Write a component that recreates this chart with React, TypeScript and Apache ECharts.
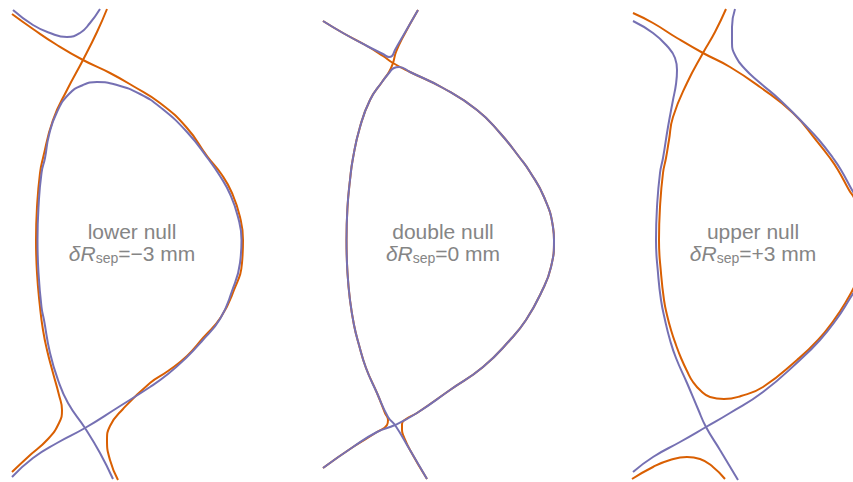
import React, { useEffect, useRef } from "react";
import * as echarts from "echarts";

type Pt = [number, number];

// Separatrix traces, each panel in its own local frame (px, y pointing down).

// --- lower null, dR_sep = -3 mm ---
const lnOrangeA: Pt[] = [
  [12, 14], [33, 29], [57, 45], [83, 60], [110, 73], [133, 86], [160, 103], [187, 128],
  [207, 156], [222, 175], [232, 193], [240, 217], [243, 240], [242, 263], [234, 290],
  [221, 317], [203, 338], [187, 356], [168, 371], [150, 383], [123, 409], [110, 426],
  [107, 440], [110, 460], [118, 480],
];
const lnOrangeB: Pt[] = [
  [107, 9], [97, 32], [83, 60], [67, 90], [53, 120], [43, 158], [40, 173], [37, 207],
  [36, 240], [37, 273], [40, 307], [43, 330], [47, 350], [53, 373], [59, 395], [62, 410],
  [59, 423], [48, 439], [28, 457], [12, 472],
];
const lnPurpleTop: Pt[] = [
  [13, 10], [33, 25], [50, 33], [67, 37], [80, 33], [90, 23], [100, 9],
];
const lnPurpleMain: Pt[] = [
  [12, 477], [33, 458], [57, 443], [85, 428], [117, 408], [150, 387], [168, 374],
  [185, 359], [202, 341], [220, 319], [232, 291], [240, 263], [241.5, 240], [238, 217],
  [230, 194], [220, 176], [209, 160], [187, 132], [160, 107], [140, 94], [117, 85],
  [97, 82], [83, 85], [69, 94], [57, 112], [49, 135], [45, 158], [41.5, 173], [38.5, 207],
  [37.5, 240], [38.5, 273], [41.5, 307], [44, 320], [50, 353], [58, 380], [68, 403],
  [85, 428], [100, 453], [113, 479],
];

// --- double null, dR_sep = 0 mm ---
const dnOrangeA: Pt[] = [
  [12, 21], [32, 33], [56, 46], [72, 56], [82, 63], [99, 72], [132, 88], [166, 110],
  [189, 133], [209, 158], [219, 172], [233, 197], [242, 227], [243, 240], [240, 267],
  [230, 293], [215, 320], [199, 340], [172, 367], [139, 390], [106, 413], [95, 419],
  [91, 424], [91, 430], [93, 437], [99, 450], [116, 479],
];
const dnOrangeB: Pt[] = [
  [107, 10], [92, 37], [85, 52], [82, 63], [78, 72], [71, 82], [59, 100], [49, 127],
  [42, 158], [39, 180], [36.5, 207], [35.5, 240], [36.5, 273], [39, 300], [43, 325],
  [48, 345], [55, 368], [66, 393], [74, 413], [77, 420], [76, 425], [66, 432], [42, 447],
  [12, 468],
];
const dnPurpleTop: Pt[] = [
  [12, 21], [32, 33], [56, 46], [72, 54], [78, 57], [81, 56], [84, 50], [92, 36], [107, 10],
];
const dnPurpleMain: Pt[] = [
  [12, 468], [42, 447], [66, 432], [84, 425], [106, 413], [139, 390], [172, 367],
  [199, 340], [215, 320], [230, 293], [240, 267], [243, 240], [242, 227], [233, 197],
  [219, 172], [209, 158], [189, 133], [166, 110], [132, 88], [99, 72], [88, 67], [83, 68],
  [78, 73], [71, 82], [59, 100], [49, 127], [42, 158], [39, 180], [36.5, 207], [35.5, 240],
  [36.5, 273], [39, 300], [43, 325], [48, 345], [55, 368], [66, 393], [77, 417], [84, 425],
  [99, 450], [116, 479],
];

// --- upper null, dR_sep = +3 mm ---
const unOrangeMain: Pt[] = [
  [12, 13], [32, 23], [56, 38], [82, 53], [109, 67], [139, 87], [172, 113], [195, 140],
  [209, 158], [217, 170], [228, 190], [234, 200], [243, 230], [245, 245], [243, 262],
  [235, 283], [226, 300], [213, 320], [197, 340], [176, 360], [142, 387], [120, 396],
  [103, 399], [89, 397], [80, 391], [72, 382], [66, 371], [60, 358], [55, 345], [50, 330],
  [46, 315], [43, 300], [40, 273], [38, 240], [39, 207], [42, 173], [45, 158], [48, 140],
  [52, 117], [66, 83], [82, 53], [94, 32], [105, 9],
];
const unOrangeLow: Pt[] = [
  [11, 479], [32, 467], [49, 460], [66, 457], [79, 459], [92, 467], [104, 479],
];
const unPurpleLeft: Pt[] = [
  [12, 21], [32, 33], [46, 46], [54, 58], [56, 70], [55, 84], [52, 100], [47, 127],
  [42, 158], [39, 173], [36, 207], [35, 240], [37, 273], [40, 300], [44, 320], [49, 340],
  [55, 358], [66, 383], [77, 409], [85, 427], [99, 450], [117, 480],
];
const unPurpleRight: Pt[] = [
  [114, 9], [111, 27], [111, 43], [115, 57], [124, 69], [138, 82], [159, 100], [186, 127],
  [198, 140], [212, 158], [220, 170], [231, 190], [237, 200], [246, 230], [248, 245],
  [246, 262], [238, 283], [228, 300], [215, 320], [199, 340], [179, 360], [142, 392],
  [109, 413], [85, 427], [59, 442], [32, 457], [12, 472],
];

const panelTitles = ["lower null", "double null", "upper null"];
const panelShifts = ["\u22123", "0", "+3"];
const orangeTraces: Pt[][][] = [
  [lnOrangeA, lnOrangeB],
  [dnOrangeA, dnOrangeB],
  [unOrangeMain, unOrangeLow],
];
const purpleTraces: Pt[][][] = [
  [lnPurpleTop, lnPurpleMain],
  [dnPurpleTop, dnPurpleMain],
  [unPurpleLeft, unPurpleRight],
];

const ORANGE = "#d95f02";
const PURPLE = "#7570b3";
const TEXT = "#858585";
const FONT = '"Liberation Sans", Arial, sans-serif';
const CANVAS_W = 853;
const CANVAS_H = 482;
const PANEL_LEFT = [0, 311, 621];
const PANEL_MAX_W = 300;
const LABEL_X = 132;

export default function App() {
  const ref = useRef<HTMLDivElement>(null);

  useEffect(() => {
    if (!ref.current) return;
    const chart = echarts.init(ref.current, undefined, { renderer: "svg" });

    // keep a 1:1 scale in every panel; the last one is cut by the canvas edge
    const widths = PANEL_LEFT.map((left) => Math.min(PANEL_MAX_W, CANVAS_W - left));
    const grid = PANEL_LEFT.map((left, i) => ({ left, top: 0, width: widths[i], height: CANVAS_H }));
    const xAxis = PANEL_LEFT.map((_, i) => ({
      type: "value" as const, gridIndex: i, min: 0, max: widths[i], show: false,
    }));
    const yAxis = PANEL_LEFT.map((_, i) => ({
      type: "value" as const, gridIndex: i, min: 0, max: CANVAS_H, inverse: true, show: false,
    }));

    const series: any[] = [];
    const addTraces = (traces: Pt[][][], color: string, z: number) => {
      traces.forEach((list, i) => {
        list.forEach((data) => {
          series.push({
            type: "line",
            xAxisIndex: i,
            yAxisIndex: i,
            data,
            symbol: "none",
            smooth: 0.5,
            silent: true,
            z,
            lineStyle: { color, width: 2 },
          });
        });
      });
    };
    addTraces(orangeTraces, ORANGE, 2);
    addTraces(purpleTraces, PURPLE, 3);

    const graphic: any[] = [];
    PANEL_LEFT.forEach((left, i) => {
      const cx = left + LABEL_X;
      graphic.push({
        type: "text",
        x: cx,
        y: 231,
        style: {
          text: panelTitles[i],
          fill: TEXT,
          fontSize: 21,
          fontFamily: FONT,
          align: "center",
          verticalAlign: "middle",
        },
      });
      graphic.push({
        type: "text",
        x: cx,
        y: 253,
        style: {
          text: `{i|\u03b4R}{s|sep}{n|=${panelShifts[i]} mm}`,
          fill: TEXT,
          fontFamily: FONT,
          align: "center",
          verticalAlign: "middle",
          rich: {
            i: { fontSize: 21, fontStyle: "italic", fontFamily: FONT, fill: TEXT, lineHeight: 24, verticalAlign: "middle" },
            s: { fontSize: 14, fontFamily: FONT, fill: TEXT, lineHeight: 12, verticalAlign: "bottom" },
            n: { fontSize: 21, fontFamily: FONT, fill: TEXT, lineHeight: 24, verticalAlign: "middle" },
          },
        },
      });
    });

    chart.setOption({
      animation: false,
      backgroundColor: "#ffffff",
      grid,
      xAxis,
      yAxis,
      series,
      graphic,
    });

    return () => chart.dispose();
  }, []);

  return (
    <div
      ref={ref}
      style={{ position: "fixed", left: 0, top: 0, width: CANVAS_W, height: CANVAS_H, background: "#fff" }}
    />
  );
}
